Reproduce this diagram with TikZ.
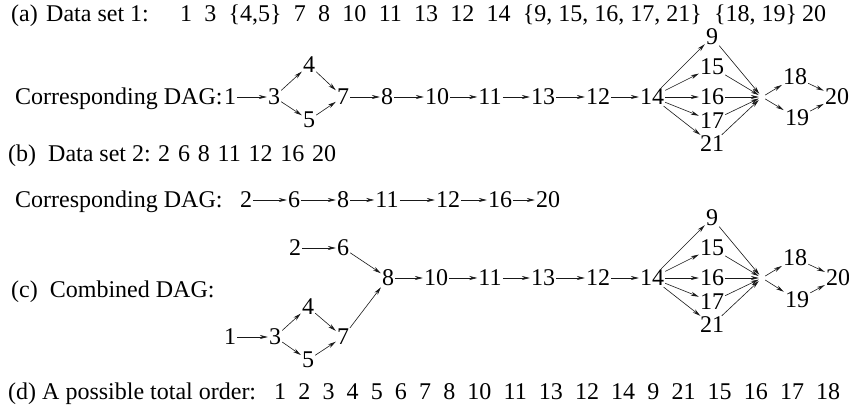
\documentclass[tikz,border=0pt]{standalone}
\usepackage{fontspec}
\setmainfont{Liberation Serif}
\usetikzlibrary{arrows.meta}

\begin{document}
\begin{tikzpicture}[x=1pt,y=-1pt,
    every node/.style={font=\fontsize{24}{28}\selectfont},
    num_node/.style={inner sep=1pt},
    text_node/.style={anchor=base west,inner sep=0pt},
    join_node/.style={inner sep=3pt},
    arr/.style={-{Stealth[length=8pt,width=4pt]},line width=0.6pt,black!90}]
    \useasboundingbox (0,0) rectangle (849,411);

    % (a)
    \node[text_node] (la) at (11,22) {(a)\hspace{0.35em}Data set 1:};
    \node[text_node] (sa) at (180,22) {\hbox to 646pt{1\hfill 3\hfill \{4,5\}\hfill 7\hfill 8\hfill 10\hfill 11\hfill 13\hfill 12\hfill 14\hfill \{9, 15, 16, 17, 21\}\hfill \{18, 19\}\hspace{5pt}20}};
    \node[text_node] (da) at (15,105) {Corresponding DAG:};
    \node[num_node] (a1) at (230,97) {1};
    \node[num_node] (a3) at (274,97) {3};
    \node[num_node] (a4) at (309,65) {4};
    \node[num_node] (a5) at (309,120) {5};
    \node[num_node] (a7) at (343,97) {7};
    \node[num_node] (a8) at (387,97) {8};
    \node[num_node] (a10) at (437,97) {10};
    \node[num_node] (a11) at (490,97) {11};
    \node[num_node] (a13) at (543,97) {13};
    \node[num_node] (a12) at (598,97) {12};
    \node[num_node] (a14) at (652,97) {14};
    \node[num_node] (a9) at (712,37) {9};
    \node[num_node] (a15) at (712,67) {15};
    \node[num_node] (a16) at (712,97) {16};
    \node[num_node] (a17) at (712,121) {17};
    \node[num_node] (a21) at (712,144) {21};
    \node[join_node] (aj) at (762,97) {};
    \node[num_node] (a18) at (795,77) {18};
    \node[num_node] (a19) at (797,118) {19};
    \node[num_node] (a20) at (837,97) {20};
    \draw[arr] (a1) edge (a3) (a3) edge (a4) (a3) edge (a5) (a4) edge (a7) (a5) edge (a7);
    \draw[arr] (a7) edge (a8) (a8) edge (a10) (a10) edge (a11) (a11) edge (a13) (a13) edge (a12) (a12) edge (a14);
    \draw[arr] (a14) edge (a9) (a14) edge (a15) (a14) edge (a16) (a14) edge (a17) (a14) edge (a21);
    \draw[arr] (a9) edge (aj) (a15) edge (aj) (a16) edge (aj) (a17) edge (aj) (a21) edge (aj);
    \draw[arr] (aj) edge (a18) (aj) edge (a19) (a18) edge (a20) (a19) edge (a20);

    % (b)
    \node[text_node] (lb) at (8,162) {(b)\ \ Data set 2:};
    \node[text_node] (sb) at (158,162) {\hbox to 178pt{2\hfill 6\hfill 8\hfill 11\hfill 12\hfill 16\hfill 20}};
    \node[text_node] (db) at (15,208) {Corresponding DAG:};
    \node[num_node] (b2) at (246,200) {2};
    \node[num_node] (b6) at (294,200) {6};
    \node[num_node] (b8) at (343,200) {8};
    \node[num_node] (b11) at (387,200) {11};
    \node[num_node] (b12) at (448,200) {12};
    \node[num_node] (b16) at (500,200) {16};
    \node[num_node] (b20) at (548,200) {20};
    \draw[arr] (b2) edge (b6) (b6) edge (b8) (b8) edge (b11) (b11) edge (b12) (b12) edge (b16) (b16) edge (b20);

    % (c)
    \node[text_node] (lc) at (11,298) {(c)\ \ Combined DAG:};
    \node[num_node] (c2) at (295,248) {2};
    \node[num_node] (c6) at (343,248) {6};
    \node[num_node] (c1) at (230,337) {1};
    \node[num_node] (c3) at (275,337) {3};
    \node[num_node] (c4) at (308,307) {4};
    \node[num_node] (c5) at (308,360) {5};
    \node[num_node] (c7) at (343,337) {7};
    \node[num_node] (c8) at (388,278) {8};
    \node[num_node] (c10) at (436,278) {10};
    \node[num_node] (c11) at (490,278) {11};
    \node[num_node] (c13) at (543,278) {13};
    \node[num_node] (c12) at (598,278) {12};
    \node[num_node] (c14) at (652,278) {14};
    \node[num_node] (c9) at (712,218) {9};
    \node[num_node] (c15) at (712,248) {15};
    \node[num_node] (c16) at (712,278) {16};
    \node[num_node] (c17) at (712,302) {17};
    \node[num_node] (c21) at (712,325) {21};
    \node[join_node] (cj) at (762,278) {};
    \node[num_node] (c18) at (795,258) {18};
    \node[num_node] (c19) at (797,300) {19};
    \node[num_node] (c20) at (838,278) {20};
    \draw[arr] (c2) edge (c6) (c6) edge (c8) (c1) edge (c3) (c3) edge (c4) (c3) edge (c5) (c4) edge (c7) (c5) edge (c7) (c7) edge (c8);
    \draw[arr] (c8) edge (c10) (c10) edge (c11) (c11) edge (c13) (c13) edge (c12) (c12) edge (c14);
    \draw[arr] (c14) edge (c9) (c14) edge (c15) (c14) edge (c16) (c14) edge (c17) (c14) edge (c21);
    \draw[arr] (c9) edge (cj) (c15) edge (cj) (c16) edge (cj) (c17) edge (cj) (c21) edge (cj);
    \draw[arr] (cj) edge (c18) (cj) edge (c19) (c18) edge (c20) (c19) edge (c20);

    % (d)
    \node[text_node] (ld) at (8,400) {(d) A possible total order:};
    \node[text_node] (sd) at (274,400) {\hbox to 566pt{1\hfill 2\hfill 3\hfill 4\hfill 5\hfill 6\hfill 7\hfill 8\hfill 10\hfill 11\hfill 13\hfill 12\hfill 14\hfill 9\hfill 21\hfill 15\hfill 16\hfill 17\hfill 18}};
\end{tikzpicture}
\end{document}
